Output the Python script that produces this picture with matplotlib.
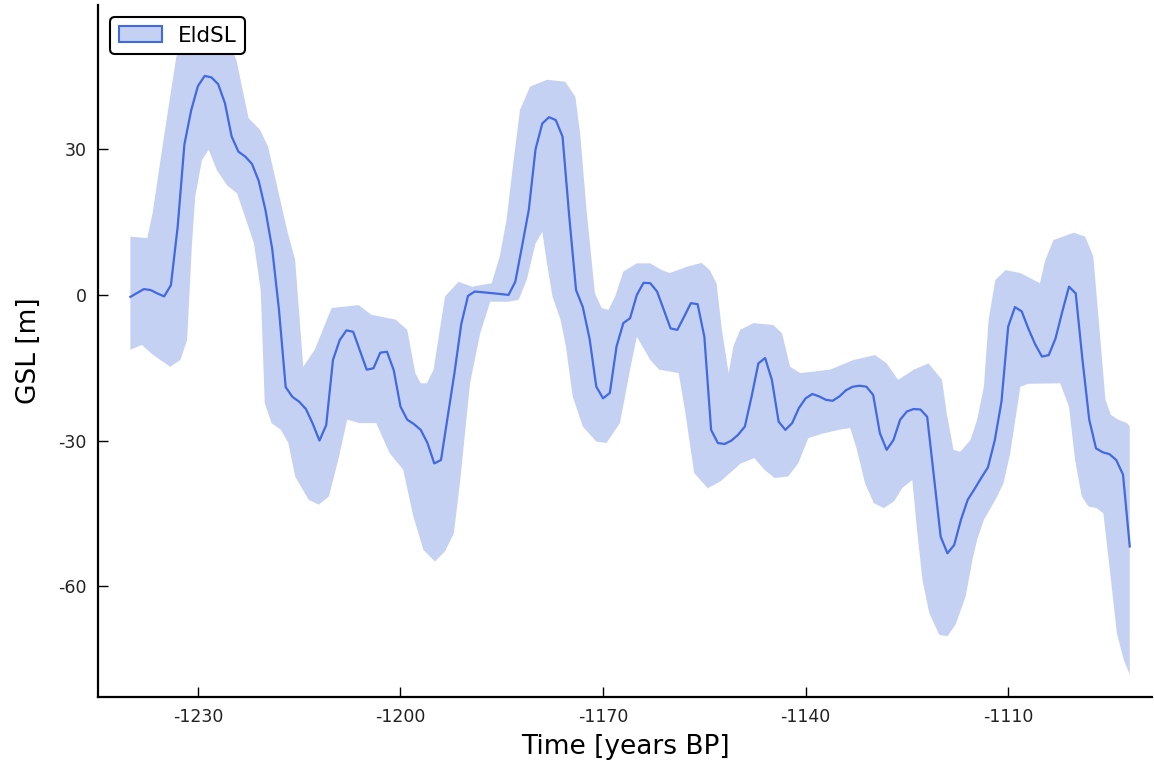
import matplotlib
matplotlib.use("Agg")
import matplotlib.pyplot as plt
from matplotlib.patches import Patch

# central GSL estimate (years BP, metres)
line_years = [-1240, -1238, -1237, -1236, -1235, -1234, -1233, -1232, -1231, -1230,
              -1229, -1228, -1227, -1226, -1225, -1224, -1223, -1222, -1221, -1220,
              -1219, -1218, -1217, -1216, -1215, -1214, -1213, -1212, -1211, -1210,
              -1209, -1208, -1207, -1206, -1205, -1204, -1203, -1202, -1201, -1200,
              -1199, -1198, -1197, -1196, -1195, -1194, -1193, -1192, -1191, -1190,
              -1189, -1186, -1184, -1183, -1182, -1181, -1180, -1179, -1178, -1177,
              -1176, -1175, -1174, -1173, -1172, -1171, -1170, -1169, -1168, -1167,
              -1166, -1165, -1164, -1163, -1162, -1161, -1160, -1159, -1158, -1157,
              -1156, -1155, -1154, -1153, -1152, -1151, -1150, -1149, -1148, -1147,
              -1146, -1145, -1144, -1143, -1142, -1141, -1140, -1139, -1138, -1137,
              -1136, -1135, -1134, -1133, -1132, -1131, -1130, -1129, -1128, -1127,
              -1126, -1125, -1124, -1123, -1122, -1121, -1120, -1119, -1118, -1117,
              -1116, -1115, -1114, -1113, -1112, -1111, -1110, -1109, -1108, -1107,
              -1106, -1105, -1104, -1103, -1102, -1101, -1100, -1099, -1098, -1097,
              -1096, -1095, -1094, -1093, -1092]
line_gsl = [-0.4, 1.2, 1.0, 0.3, -0.3, 2.0, 14.0, 31.0, 38.0, 43.0,
            45.1, 44.8, 43.4, 39.5, 32.6, 29.5, 28.5, 27.0, 23.5, 17.5,
            9.5, -3.0, -19.0, -21.0, -22.0, -23.5, -26.5, -30.0, -26.8, -13.4,
            -9.3, -7.3, -7.6, -11.5, -15.4, -15.1, -11.9, -11.7, -15.5, -23.0,
            -25.7, -26.6, -27.8, -30.5, -34.7, -34.0, -25.0, -16.0, -6.0, -0.2,
            0.7, 0.3, 0.0, 2.7, 10.0, 17.5, 30.0, 35.3, 36.6, 36.0,
            32.6, 16.0, 1.0, -2.5, -9.0, -18.9, -21.3, -20.2, -10.6, -5.8,
            -4.8, 0.0, 2.5, 2.4, 0.7, -3.1, -6.9, -7.2, -4.5, -1.7,
            -1.9, -8.6, -27.8, -30.5, -30.7, -30.0, -28.8, -27.1, -20.9, -14.1,
            -13.0, -17.5, -26.1, -27.8, -26.4, -23.3, -21.3, -20.4, -20.9, -21.6,
            -21.8, -20.9, -19.6, -18.9, -18.7, -18.9, -20.6, -28.5, -31.9, -29.9,
            -25.7, -24.0, -23.5, -23.6, -25.1, -37.4, -49.8, -53.2, -51.5, -46.3,
            -42.2, -40.0, -37.7, -35.5, -30.0, -22.0, -6.5, -2.5, -3.4, -7.0,
            -10.2, -12.7, -12.4, -9.0, -3.5, 1.7, 0.3, -13.4, -25.7, -31.6,
            -32.4, -32.8, -34.0, -37.0, -51.8]

# upper edge of the uncertainty band
upper_years = [-1240.0, -1237.5, -1236.7, -1235.1, -1233.2, -1231.5, -1229.0, -1226.5,
               -1224.3, -1222.5, -1220.8, -1219.6, -1216.8, -1215.6, -1214.4, -1212.7,
               -1210.2, -1206.2, -1204.3, -1200.7, -1199.0, -1197.8, -1197.0, -1196.1,
               -1195.1, -1193.4, -1191.4, -1189.4, -1186.5, -1185.3, -1184.3, -1183.3,
               -1182.3, -1180.8, -1178.3, -1175.6, -1174.1, -1173.4, -1172.4, -1171.2,
               -1170.2, -1169.2, -1168.2, -1167.0, -1165.0, -1163.0, -1161.3, -1160.1,
               -1157.6, -1155.4, -1154.2, -1153.2, -1152.4, -1151.4, -1150.7, -1149.7,
               -1147.7, -1144.8, -1143.5, -1142.3, -1140.8, -1136.4, -1132.9, -1129.7,
               -1128.0, -1126.3, -1124.0, -1121.8, -1119.8, -1119.1, -1118.1, -1117.1,
               -1115.6, -1114.6, -1113.6, -1112.9, -1111.9, -1110.4, -1108.2, -1105.3,
               -1104.5, -1103.3, -1100.3, -1098.6, -1097.4, -1096.6, -1095.6, -1094.8,
               -1093.7, -1092.4, -1092.0]
upper_gsl = [12.0, 11.7, 16.9, 31.9, 49.0, 55.5, 57.0, 55.0,
             48.4, 36.4, 34.0, 30.5, 13.4, 7.2, -14.8, -11.3,
             -2.7, -2.1, -4.1, -5.1, -7.2, -16.1, -18.2, -18.2,
             -15.4, -0.3, 2.7, 1.7, 2.4, 7.9, 15.4, 27.1,
             38.1, 42.9, 44.3, 43.9, 40.8, 33.3, 16.8, 0.3,
             -2.7, -3.1, -0.3, 4.8, 6.5, 6.5, 5.1, 4.5,
             5.8, 6.6, 5.1, 2.4, -7.2, -16.1, -10.6, -7.2,
             -5.8, -6.2, -7.9, -14.8, -16.1, -15.4, -13.4, -12.4,
             -14.1, -17.5, -15.4, -14.1, -17.5, -24.4, -31.9, -32.3,
             -29.9, -25.7, -18.9, -5.1, 3.1, 5.1, 4.5, 2.4,
             7.2, 11.3, 12.8, 12.0, 7.9, -5.1, -21.6, -24.7,
             -25.7, -26.4, -27.1]

# lower edge of the uncertainty band
lower_years = [-1240.0, -1238.3, -1236.6, -1234.1, -1232.6, -1231.6, -1230.9, -1230.4,
               -1229.4, -1228.4, -1227.2, -1225.7, -1224.2, -1222.7, -1221.7, -1220.7,
               -1220.1, -1219.1, -1217.7, -1216.6, -1215.6, -1213.6, -1212.1, -1210.6,
               -1209.1, -1207.9, -1206.1, -1203.6, -1201.6, -1199.6, -1198.1, -1196.6,
               -1194.9, -1193.4, -1192.1, -1191.2, -1189.7, -1188.2, -1186.7, -1184.0,
               -1182.5, -1181.3, -1180.0, -1179.0, -1178.3, -1177.5, -1176.3, -1175.5,
               -1174.5, -1173.0, -1171.0, -1169.5, -1167.5, -1166.0, -1165.0, -1163.0,
               -1161.7, -1158.8, -1157.8, -1156.5, -1154.5, -1152.6, -1149.6, -1147.6,
               -1146.1, -1144.6, -1142.6, -1141.1, -1139.6, -1137.6, -1135.1, -1133.4,
               -1132.4, -1131.2, -1129.9, -1128.4, -1126.9, -1125.7, -1124.2, -1123.5,
               -1122.7, -1121.7, -1120.2, -1119.0, -1117.8, -1116.3, -1115.3, -1114.6,
               -1113.6, -1111.9, -1110.7, -1109.7, -1108.2, -1107.0, -1102.3, -1101.0,
               -1100.1, -1099.1, -1098.1, -1096.9, -1095.9, -1094.9, -1093.9, -1092.9,
               -1092.0]
lower_gsl = [-11.3, -10.3, -12.4, -14.8, -13.4, -9.3, 10.0, 20.2,
             27.8, 29.9, 25.7, 22.6, 20.9, 14.8, 10.6, 1.0,
             -22.3, -26.4, -27.8, -30.5, -37.4, -42.2, -43.2, -41.5,
             -33.3, -25.7, -26.4, -26.4, -32.6, -36.0, -45.6, -52.5,
             -54.9, -52.8, -49.1, -38.8, -18.2, -7.9, -1.4, -1.4,
             -1.0, 3.1, 10.6, 13.0, 6.5, -0.3, -5.1, -10.6,
             -20.9, -27.1, -30.2, -30.5, -26.4, -15.4, -8.6, -13.4,
             -15.4, -16.1, -24.4, -36.7, -39.8, -38.4, -34.7, -33.6,
             -36.0, -37.7, -37.4, -34.7, -29.5, -28.6, -27.8, -27.4,
             -31.9, -38.8, -42.9, -43.9, -42.5, -39.8, -38.1, -48.4,
             -58.7, -65.5, -70.0, -70.3, -67.9, -62.1, -54.6, -50.4,
             -46.3, -42.2, -38.8, -32.6, -18.9, -18.3, -18.2, -23.0,
             -34.0, -41.5, -43.6, -43.9, -45.0, -57.3, -69.7, -75.1,
             -78.2]

x_ticks = [-1230, -1200, -1170, -1140, -1110]
y_ticks = [-60, -30, 0, 30]

line_color = "#4169e1"
band_color = "#c5d1f3"

fig = plt.figure(figsize=(11.54, 7.71), dpi=100)
ax = fig.add_axes([0.0849, 0.096, 0.9134, 0.8975])

# band polygon: upper edge left to right, lower edge back right to left
band_x = upper_years + lower_years[::-1]
band_y = upper_gsl + lower_gsl[::-1]
ax.fill(band_x, band_y, color=band_color, lw=0, zorder=1)
ax.plot(line_years, line_gsl, color=line_color, lw=1.6, zorder=2)

ax.set_xlim(-1244.8, -1088.7)
ax.set_ylim(-82.8, 59.7)
ax.set_xticks(x_ticks)
ax.set_xticklabels([str(t) for t in x_ticks])
ax.set_yticks(y_ticks)
ax.set_yticklabels([str(t) for t in y_ticks])

for side in ["top", "right"]:
    ax.spines[side].set_visible(False)
for side in ["left", "bottom"]:
    ax.spines[side].set_linewidth(1.6)
    ax.spines[side].set_color("black")
ax.tick_params(direction="in", length=7, width=1.0, labelsize=12.5,
               colors="black", labelcolor="#222222")
ax.tick_params(axis="x", pad=8)
ax.tick_params(axis="y", pad=8)

ax.set_xlabel("Time [years BP]", fontsize=19, labelpad=6)
ax.set_ylabel("GSL [m]", fontsize=19, labelpad=12)

handle = Patch(facecolor=band_color, edgecolor=line_color, linewidth=1.5)
leg = ax.legend([handle], ["EldSL"], loc="upper left", bbox_to_anchor=(0.0114, 0.9827),
                borderaxespad=0, fontsize=15.5, handlelength=2.0, handleheight=0.75,
                handletextpad=0.75, borderpad=0.4, framealpha=1, fancybox=True,
                edgecolor="black")
leg.get_frame().set_linewidth(1.5)
leg.get_frame().set_boxstyle("round", pad=0.0, rounding_size=0.25)

fig.savefig("out.png", dpi=100)
